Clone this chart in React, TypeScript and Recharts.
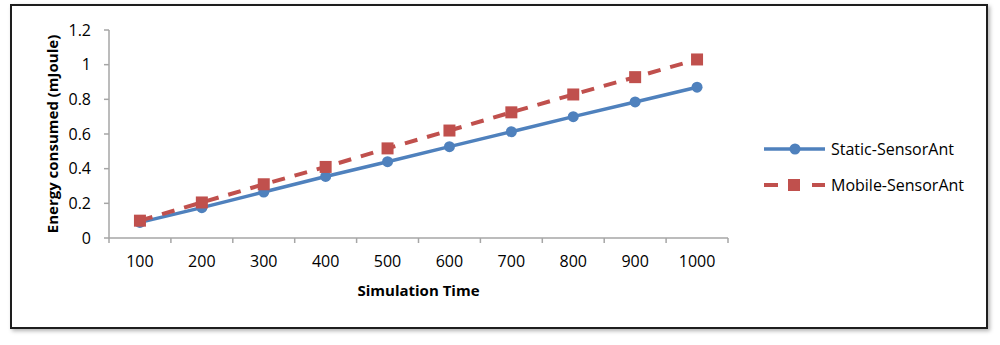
import React from 'react';
import { LineChart, Line, XAxis, YAxis, Label } from 'recharts';

const simTimes = [100, 200, 300, 400, 500, 600, 700, 800, 900, 1000];
const staticEnergy = [0.09, 0.175, 0.265, 0.355, 0.44, 0.527, 0.613, 0.7, 0.785, 0.87];
const mobileEnergy = [0.1, 0.205, 0.31, 0.41, 0.517, 0.62, 0.725, 0.828, 0.928, 1.03];
const yTicks = [0, 0.2, 0.4, 0.6, 0.8, 1, 1.2];
const boundaryTicks = [50, 150, 250, 350, 450, 550, 650, 750, 850, 950, 1050];
const seriesNames = ['Static-SensorAnt', 'Mobile-SensorAnt'];
const xTitle = 'Simulation Time';
const yTitle = 'Energy consumed (mJoule)';

const BLUE = '#4F81BD';
const RED = '#C0504D';
const AXIS = '#A6A6A6';
const FONT = '"Open Sans", "Noto Sans", sans-serif';

const data = simTimes.map((t, i) => ({ t, s: staticEnergy[i], m: mobileEnergy[i] }));

const SquareDot = (p: any) => (
  <rect key={`sq-${p.index}`} x={p.cx - 6} y={p.cy - 6} width={12} height={12} fill={RED} />
);
const CircleDot = (p: any) => (
  <circle key={`ci-${p.index}`} cx={p.cx} cy={p.cy} r={5.5} fill={BLUE} />
);

export default function App() {
  return (
    <div style={{ position: 'absolute', left: 0, top: 0, width: 1000, height: 345, background: '#fff', fontFamily: FONT }}>
      <div
        style={{
          position: 'absolute',
          left: 10,
          top: 4,
          width: 974,
          height: 321,
          border: '2px solid #1e1e1e',
          boxShadow: '2px 2px 4px rgba(0,0,0,0.3)',
          background: '#fff',
        }}
      />
      <div style={{ position: 'absolute', left: 0, top: 0 }}>
        <LineChart width={1000} height={345} data={data} margin={{ top: 30, right: 272, bottom: 0, left: 0 }}>
          <XAxis
            xAxisId="a"
            dataKey="t"
            type="number"
            domain={[50, 1050]}
            ticks={boundaryTicks}
            interval={0}
            tickFormatter={() => ''}
            tickSize={5}
            height={10}
            axisLine={{ stroke: AXIS, strokeWidth: 1.5 }}
            tickLine={{ stroke: AXIS, strokeWidth: 1.5 }}
          />
          <XAxis
            xAxisId="b"
            dataKey="t"
            type="number"
            domain={[50, 1050]}
            ticks={simTimes}
            interval={0}
            axisLine={false}
            tickLine={false}
            tickSize={0}
            tickMargin={8}
            height={97}
            tick={{ fill: '#000', fontSize: 16, fontFamily: FONT }}
          >
            <Label
              value={xTitle}
              position="insideTop"
              offset={37}
              style={{ fontWeight: 'bold', fontSize: 15, fill: '#000', fontFamily: FONT }}
            />
          </XAxis>
          <YAxis
            domain={[0, 1.2]}
            ticks={yTicks}
            interval={0}
            width={109}
            tickSize={5}
            tickMargin={13}
            axisLine={{ stroke: AXIS, strokeWidth: 1.5 }}
            tickLine={{ stroke: AXIS, strokeWidth: 1.5 }}
            tick={{ fill: '#000', fontSize: 16, fontFamily: FONT }}
          >
            <Label
              value={yTitle}
              angle={-90}
              position="center"
              dx={-2}
              style={{ fontWeight: 'bold', fontSize: 15, fill: '#000', fontFamily: FONT, textAnchor: 'middle' }}
            />
          </YAxis>
          <Line
            xAxisId="a"
            dataKey="s"
            name={seriesNames[0]}
            stroke={BLUE}
            strokeWidth={3.5}
            dot={CircleDot}
            activeDot={false}
            isAnimationActive={false}
          />
          <Line
            xAxisId="a"
            dataKey="m"
            name={seriesNames[1]}
            stroke={RED}
            strokeWidth={4}
            strokeDasharray="13 10"
            dot={SquareDot}
            activeDot={false}
            isAnimationActive={false}
          />
        </LineChart>
      </div>
      <div style={{ position: 'absolute', left: 764, top: 137, fontFamily: FONT, fontSize: 16, color: '#000' }}>
        <div style={{ display: 'flex', alignItems: 'center', height: 24 }}>
          <svg width={62} height={14} style={{ marginRight: 5 }}>
            <line x1={0} y1={7} x2={61} y2={7} stroke={BLUE} strokeWidth={3.5} />
            <circle cx={31} cy={7} r={5.5} fill={BLUE} />
          </svg>
          <span>{seriesNames[0]}</span>
        </div>
        <div style={{ display: 'flex', alignItems: 'center', height: 24, marginTop: 12 }}>
          <svg width={62} height={14} style={{ marginRight: 5 }}>
            <line x1={0} y1={7} x2={14} y2={7} stroke={RED} strokeWidth={4} />
            <rect x={24} y={1} width={12} height={12} fill={RED} />
            <line x1={48} y1={7} x2={61} y2={7} stroke={RED} strokeWidth={4} />
          </svg>
          <span>{seriesNames[1]}</span>
        </div>
      </div>
    </div>
  );
}
